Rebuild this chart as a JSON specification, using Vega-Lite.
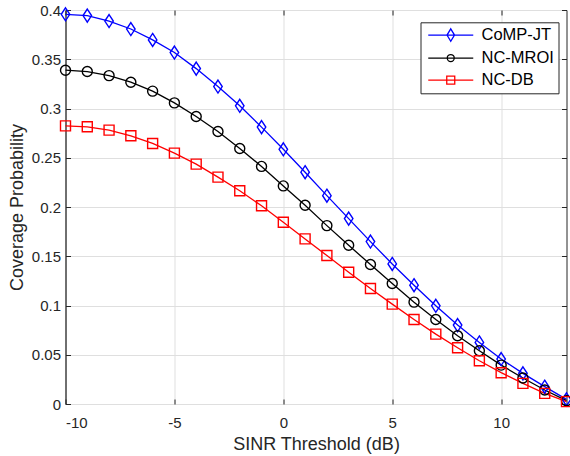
{
  "$schema": "https://vega.github.io/schema/vega-lite/v6.json",
  "width": 501,
  "height": 394,
  "autosize": {"type": "none"},
  "padding": {"left": 65.5, "top": 10, "right": 3.5, "bottom": 52},
  "background": "white",
  "config": {
    "view": {"stroke": "#262626", "strokeWidth": 1},
    "font": "Liberation Sans",
    "axis": {
      "domainColor": "#262626",
      "tickColor": "#262626",
      "gridColor": "#dfdfdf",
      "gridOpacity": 1,
      "labelColor": "#262626",
      "titleColor": "#262626",
      "labelFont": "Liberation Sans",
      "titleFont": "Liberation Sans",
      "labelFontSize": 15,
      "titleFontSize": 18,
      "titleFontWeight": "normal",
      "tickSize": -5
    }
  },
  "data": {
    "values": [
      {"x": -10, "s": "CoMP-JT", "p": 0.3956}, {"x": -9, "s": "CoMP-JT", "p": 0.3943}, {"x": -8, "s": "CoMP-JT", "p": 0.3888}, {"x": -7, "s": "CoMP-JT", "p": 0.3807}, {"x": -6, "s": "CoMP-JT", "p": 0.3696}, {"x": -5, "s": "CoMP-JT", "p": 0.3568}, {"x": -4, "s": "CoMP-JT", "p": 0.3405}, {"x": -3, "s": "CoMP-JT", "p": 0.3223}, {"x": -2, "s": "CoMP-JT", "p": 0.3027}, {"x": -1, "s": "CoMP-JT", "p": 0.2811}, {"x": 0, "s": "CoMP-JT", "p": 0.2586}, {"x": 1, "s": "CoMP-JT", "p": 0.2353}, {"x": 2, "s": "CoMP-JT", "p": 0.2115}, {"x": 3, "s": "CoMP-JT", "p": 0.1882}, {"x": 4, "s": "CoMP-JT", "p": 0.1649}, {"x": 5, "s": "CoMP-JT", "p": 0.1422}, {"x": 6, "s": "CoMP-JT", "p": 0.1206}, {"x": 7, "s": "CoMP-JT", "p": 0.0997}, {"x": 8, "s": "CoMP-JT", "p": 0.0801}, {"x": 9, "s": "CoMP-JT", "p": 0.0625}, {"x": 10, "s": "CoMP-JT", "p": 0.0456}, {"x": 11, "s": "CoMP-JT", "p": 0.0311}, {"x": 12, "s": "CoMP-JT", "p": 0.0176}, {"x": 13, "s": "CoMP-JT", "p": 0.0047},
      {"x": -10, "s": "NC-MROI", "p": 0.3389}, {"x": -9, "s": "NC-MROI", "p": 0.3375}, {"x": -8, "s": "NC-MROI", "p": 0.3334}, {"x": -7, "s": "NC-MROI", "p": 0.3267}, {"x": -6, "s": "NC-MROI", "p": 0.3176}, {"x": -5, "s": "NC-MROI", "p": 0.3057}, {"x": -4, "s": "NC-MROI", "p": 0.2919}, {"x": -3, "s": "NC-MROI", "p": 0.2767}, {"x": -2, "s": "NC-MROI", "p": 0.2594}, {"x": -1, "s": "NC-MROI", "p": 0.2412}, {"x": 0, "s": "NC-MROI", "p": 0.2214}, {"x": 1, "s": "NC-MROI", "p": 0.2018}, {"x": 2, "s": "NC-MROI", "p": 0.1811}, {"x": 3, "s": "NC-MROI", "p": 0.1611}, {"x": 4, "s": "NC-MROI", "p": 0.1416}, {"x": 5, "s": "NC-MROI", "p": 0.1223}, {"x": 6, "s": "NC-MROI", "p": 0.1034}, {"x": 7, "s": "NC-MROI", "p": 0.0858}, {"x": 8, "s": "NC-MROI", "p": 0.0693}, {"x": 9, "s": "NC-MROI", "p": 0.0541}, {"x": 10, "s": "NC-MROI", "p": 0.0395}, {"x": 11, "s": "NC-MROI", "p": 0.0264}, {"x": 12, "s": "NC-MROI", "p": 0.0142}, {"x": 13, "s": "NC-MROI", "p": 0.0034},
      {"x": -10, "s": "NC-DB", "p": 0.2824}, {"x": -9, "s": "NC-DB", "p": 0.2814}, {"x": -8, "s": "NC-DB", "p": 0.2780}, {"x": -7, "s": "NC-DB", "p": 0.2723}, {"x": -6, "s": "NC-DB", "p": 0.2645}, {"x": -5, "s": "NC-DB", "p": 0.2547}, {"x": -4, "s": "NC-DB", "p": 0.2435}, {"x": -3, "s": "NC-DB", "p": 0.2303}, {"x": -2, "s": "NC-DB", "p": 0.2165}, {"x": -1, "s": "NC-DB", "p": 0.2012}, {"x": 0, "s": "NC-DB", "p": 0.1845}, {"x": 1, "s": "NC-DB", "p": 0.1676}, {"x": 2, "s": "NC-DB", "p": 0.1507}, {"x": 3, "s": "NC-DB", "p": 0.1338}, {"x": 4, "s": "NC-DB", "p": 0.1172}, {"x": 5, "s": "NC-DB", "p": 0.1014}, {"x": 6, "s": "NC-DB", "p": 0.0858}, {"x": 7, "s": "NC-DB", "p": 0.0709}, {"x": 8, "s": "NC-DB", "p": 0.0571}, {"x": 9, "s": "NC-DB", "p": 0.0439}, {"x": 10, "s": "NC-DB", "p": 0.0318}, {"x": 11, "s": "NC-DB", "p": 0.0209}, {"x": 12, "s": "NC-DB", "p": 0.0108}, {"x": 13, "s": "NC-DB", "p": 0.0024}
    ]
  },
  "resolve": {"axis": {"x": "independent", "y": "independent"}},
  "layer": [
    {
      "mark": {"type": "line", "strokeWidth": 1.3},
      "encoding": {
        "x": {
          "field": "x", "type": "quantitative",
          "scale": {"domain": [-10, 13], "nice": false, "zero": false},
          "axis": {"values": [-10, -5, 0, 5, 10], "title": "SINR Threshold (dB)", "titlePadding": 5, "ticks": false, "domain": false, "grid": false, "offset": 9, "labelPadding": 2, "labelBaseline": "top",
                   "labelExpr": "datum.value < 0 ? '-' + abs(datum.value) : '' + datum.value"}
        },
        "y": {
          "field": "p", "type": "quantitative",
          "scale": {"domain": [0, 0.4], "nice": false},
          "axis": {"values": [0, 0.05, 0.1, 0.15, 0.2, 0.25, 0.3, 0.35, 0.4], "format": "~g", "title": "Coverage Probability", "titlePadding": 5, "ticks": false, "labelPadding": 5}
        },
        "color": {
          "field": "s", "type": "nominal",
          "scale": {"domain": ["CoMP-JT", "NC-MROI", "NC-DB"], "range": ["#0000ff", "#000000", "#ff0000"]},
          "legend": {
            "title": null,
            "orient": "none",
            "legendX": 355,
            "legendY": 12.3,
            "padding": 4.5,
            "rowPadding": 5,
            "strokeColor": "#262626",
            "fillColor": "white",
            "labelFont": "Liberation Sans",
            "labelFontSize": 16.5,
            "labelColor": "#000000",
            "symbolSize": 100,
            "symbolStrokeWidth": 1.3,
            "symbolFillColor": "transparent",
            "labelOffset": 40,
            "encode": {
              "symbols": {
                "update": {
                  "shape": {"signal": "datum.value === 'CoMP-JT' ? 'M-1,0L8,0M3.5,-1.25L4.25,0L3.5,1.25L2.75,0Z' : datum.value === 'NC-MROI' ? 'M-1,0L8,0M2.8,0A0.7,0.7 0 1,0 4.2,0A0.7,0.7 0 1,0 2.8,0Z' : 'M-1,0L8,0M2.7,-0.8L4.3,-0.8L4.3,0.8L2.7,0.8Z'"},
                  "fill": {"value": "transparent"}
                }
              }
            }
          }
        }
      }
    },
    {
      "transform": [{"filter": "datum.s === 'CoMP-JT'"}],
      "mark": {"type": "point", "filled": false, "strokeWidth": 1.4, "size": 100, "opacity": 1, "color": "#0000ff", "shape": "M0,-1.3L0.85,0L0,1.3L-0.85,0Z"},
      "encoding": {
        "x": {"field": "x", "type": "quantitative", "axis": {"orient": "bottom", "values": [-10, -5, 0, 5, 10], "labels": false, "title": null, "grid": true, "domain": false, "ticks": true}},
        "y": {"field": "p", "type": "quantitative", "axis": {"orient": "left", "values": [0, 0.05, 0.1, 0.15, 0.2, 0.25, 0.3, 0.35, 0.4], "labels": false, "title": null, "grid": false, "domain": false, "ticks": true}}
      }
    },
    {
      "transform": [{"filter": "datum.s === 'NC-MROI'"}],
      "mark": {"type": "point", "filled": false, "strokeWidth": 1.4, "size": 100, "opacity": 1, "color": "#000000", "shape": "M-1,0A1,1 0 1,0 1,0A1,1 0 1,0 -1,0Z"},
      "encoding": {
        "x": {"field": "x", "type": "quantitative", "axis": null},
        "y": {"field": "p", "type": "quantitative", "axis": null}
      }
    },
    {
      "transform": [{"filter": "datum.s === 'NC-DB'"}],
      "mark": {"type": "point", "filled": false, "strokeWidth": 1.4, "size": 100, "opacity": 1, "color": "#ff0000", "shape": "M-1,-1L1,-1L1,1L-1,1Z"},
      "encoding": {
        "x": {"field": "x", "type": "quantitative", "axis": null},
        "y": {"field": "p", "type": "quantitative", "axis": null}
      }
    },
    {
      "mark": {"type": "point", "opacity": 0},
      "encoding": {
        "x": {"field": "x", "type": "quantitative", "axis": {"orient": "top", "values": [-10, -5, 0, 5, 10], "labels": false, "title": null, "grid": false, "domain": false}},
        "y": {"field": "p", "type": "quantitative", "axis": {"orient": "right", "values": [0, 0.05, 0.1, 0.15, 0.2, 0.25, 0.3, 0.35, 0.4], "labels": false, "title": null, "grid": false, "domain": false}}
      }
    }
  ]
}
